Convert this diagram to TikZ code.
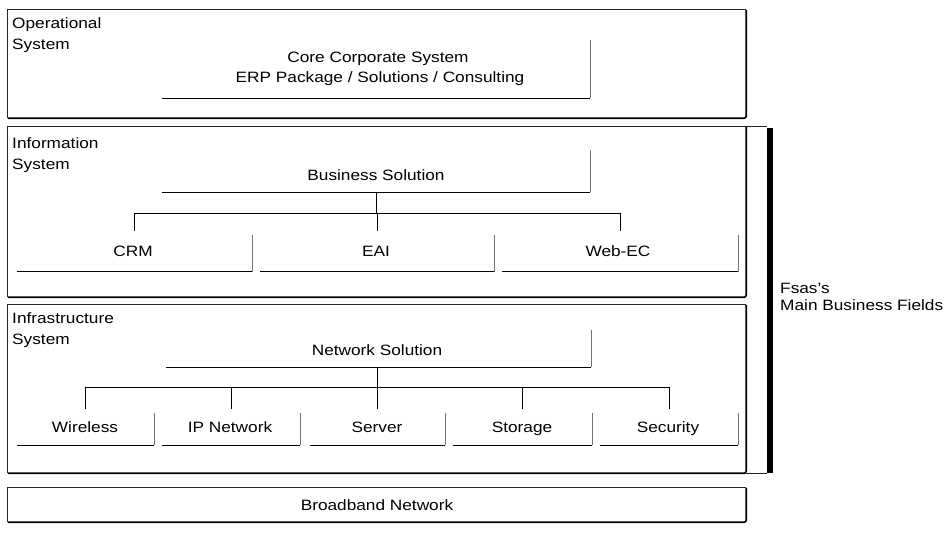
\documentclass[tikz,border=0pt]{standalone}
\usepackage{fontspec}
\setmainfont{Liberation Sans}
\usetikzlibrary{calc}

% bottom rule and right side of a raised item
\newcommand\itemedge[1]{%
  \draw[base] (#1.south west) -- (#1.south east);
  \draw[side] (#1.south east) -- (#1.north east);}
% framed layer: light top/left edge, heavy bottom/right edge
\newcommand\layeredge[1]{%
  \draw[toprule] (#1.south west) |- (#1.north east);
  \draw[heavy, rounded corners=2pt] (#1.south west) -- (#1.south east) -- (#1.north east);}

\begin{document}
\begin{tikzpicture}[x=1pt,y=-1pt,
  txt/.style={font=\fontsize{15}{20.5}\selectfont, xscale=1.15, inner sep=0pt},
  layer/.style={inner sep=0pt, minimum width=738pt},
  item/.style={inner sep=0pt},
  toprule/.style={line width=0.7pt, black!85},
  heavy/.style={line width=1.6pt},
  base/.style={line width=1.2pt},
  side/.style={line width=0.5pt, black!55},
  tree/.style={line width=0.8pt}
]
\useasboundingbox (0,0) rectangle (948,536);

% ---------- layers ----------
\node[layer, minimum height=108pt] (op)    at (377,64)    {};
\node[layer, minimum height=170pt] (info)  at (377,212)   {};
\node[layer, minimum height=168pt] (infra) at (377,389)   {};
\node[layer, minimum height=34pt]  (bb)    at (377,505)   {};
\layeredge{op}
\layeredge{info}
\layeredge{infra}
\layeredge{bb}

\node[txt, anchor=north west, align=left] (opl)    at (12,17.5)  {Operational\\System};
\node[txt, anchor=north west, align=left] (infol)  at (12,137.5) {Information\\System};
\node[txt, anchor=north west, align=left] (infral) at (12,312.5) {Infrastructure\\System};
\node[txt, anchor=base] (bbt) at (377,510.5) {Broadband Network};

% ---------- operational system ----------
\node[item, minimum width=428pt, minimum height=58pt] (core) at (376,69) {};
\itemedge{core}
\node[txt, anchor=base] (coret) at (378,62.5) {Core Corporate System};
\node[txt, anchor=base] (erpt)  at (380,82.5) {ERP Package / Solutions / Consulting};

% ---------- information system ----------
\node[item, minimum width=428pt, minimum height=42pt] (bs) at (376,171) {};
\itemedge{bs}
\node[txt, anchor=base] (bst) at (376,180.5) {Business Solution};

\node[item, minimum width=235pt, minimum height=36pt] (crm) at (134.5,253.5) {};
\node[item, minimum width=234pt, minimum height=36pt] (eai) at (377,253.5)   {};
\node[item, minimum width=236pt, minimum height=36pt] (web) at (620,253.5)   {};
\itemedge{crm}
\itemedge{eai}
\itemedge{web}
\node[txt, anchor=base] (crmt) at (133,256.5) {CRM};
\node[txt, anchor=base] (eait) at (376,256.5) {EAI};
\node[txt, anchor=base] (webt) at (618,256.5) {Web-EC};

\coordinate (bsbus) at (376,213);
\foreach \c in {crm,eai,web}
  \draw[tree] (bs.south) |- (bsbus -| \c.north) -- ([yshift=4pt]\c.north);

% ---------- infrastructure system ----------
\node[item, minimum width=425pt, minimum height=37pt] (ns) at (378.5,348.5) {};
\itemedge{ns}
\node[txt, anchor=base] (nst) at (377,355.5) {Network Solution};

\node[item, minimum width=137pt, minimum height=32pt] (wl)  at (85.5,429)  {};
\node[item, minimum width=138pt, minimum height=32pt] (ipn) at (231,429)   {};
\node[item, minimum width=135pt, minimum height=32pt] (srv) at (377.5,429) {};
\node[item, minimum width=139pt, minimum height=32pt] (sto) at (522.5,429) {};
\node[item, minimum width=138pt, minimum height=32pt] (sec) at (669,429)   {};
\foreach \c in {wl,ipn,srv,sto,sec} {\itemedge{\c}}
\node[txt, anchor=base] (wlt)  at (85,432.5)  {Wireless};
\node[txt, anchor=base] (ipnt) at (230,432.5) {IP Network};
\node[txt, anchor=base] (srvt) at (377,432.5) {Server};
\node[txt, anchor=base] (stot) at (522,432.5) {Storage};
\node[txt, anchor=base] (sect) at (668,432.5) {Security};

\coordinate (nsbus) at (377,387);
\foreach \c in {wl,ipn,srv,sto,sec}
  \draw[tree] (ns.south -| nsbus) |- (nsbus -| \c.north) -- ([yshift=4pt]\c.north);

% ---------- main business fields bracket ----------
\node[fill=black, inner sep=0pt, minimum width=6pt, minimum height=345pt] (bar) at (770,300.5) {};
\draw[toprule] (info.north east) -- (info.north east -| bar.west);
\draw[toprule] (infra.south east) -- (infra.south east -| bar.west);
\node[txt, anchor=west, align=left, font=\fontsize{15}{17}\selectfont] (fields) at (780,297)
  {Fsas's\\Main Business Fields};
\end{tikzpicture}
\end{document}
